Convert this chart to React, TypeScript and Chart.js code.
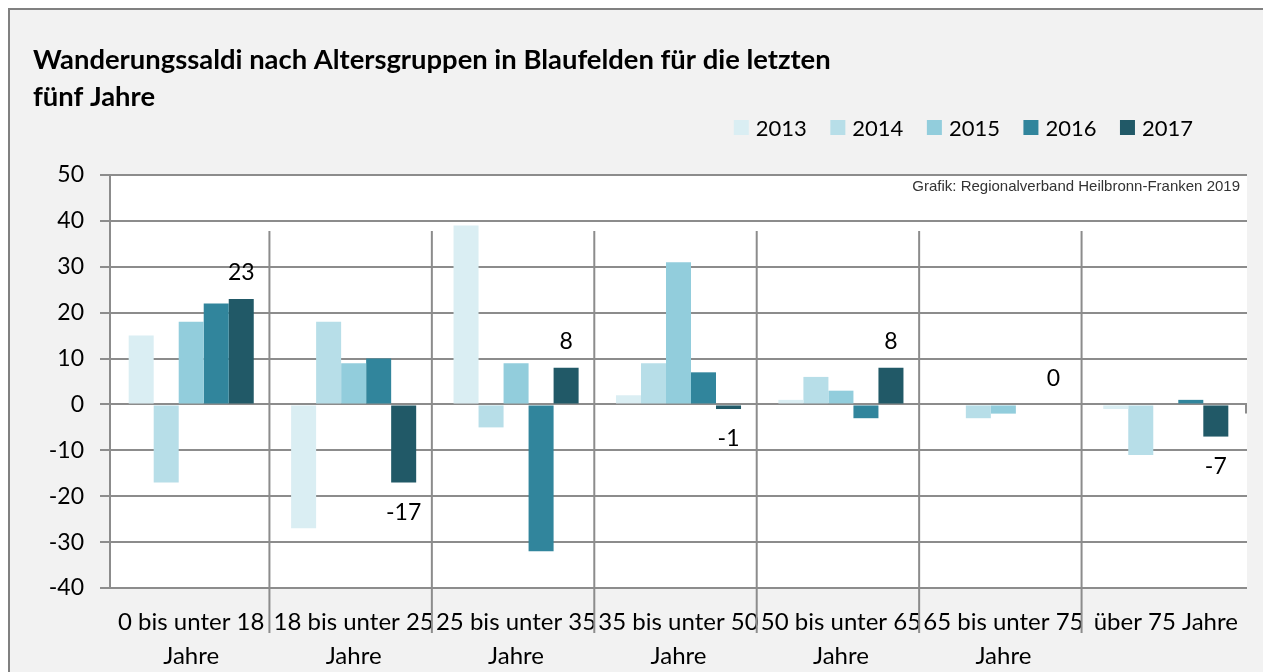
import React, { useEffect, useRef } from "react";
import { Chart, registerables } from "chart.js";

Chart.register(...registerables);

const titleLines = ["Wanderungssaldi nach Altersgruppen in Blaufelden für die letzten", "fünf Jahre"];
const sourceNote = "Grafik: Regionalverband Heilbronn-Franken 2019";
const categories = [
  ["0 bis unter 18", "Jahre"],
  ["18 bis unter 25", "Jahre"],
  ["25 bis unter 35", "Jahre"],
  ["35 bis unter 50", "Jahre"],
  ["50 bis unter 65", "Jahre"],
  ["65 bis unter 75", "Jahre"],
  "über 75 Jahre",
];
const years = ["2013", "2014", "2015", "2016", "2017"];
const values2013 = [15, -27, 39, 2, 1, 0, -1];
const values2014 = [-17, 18, -5, 9, 6, -3, -11];
const values2015 = [18, 9, 9, 31, 3, -2, 0];
const values2016 = [22, 10, -32, 7, -3, 0, 1];
const values2017 = [23, -17, 8, -1, 8, 0, -7];
const seriesValues = [values2013, values2014, values2015, values2016, values2017];
const colors = ["#DAEEF3", "#B7DEE8", "#92CDDC", "#31859C", "#215967"];
const yMin = -40;
const yMax = 50;
const yStep = 10;

const FONT = "Lato, 'Open Sans', sans-serif";
const GRID = "#8c8c8c";

const plotBgPlugin = {
  id: "plotBg",
  beforeDraw(chart: any) {
    const { ctx, chartArea } = chart;
    ctx.save();
    ctx.fillStyle = "#ffffff";
    ctx.fillRect(chartArea.left, chartArea.top, chartArea.right - chartArea.left, chartArea.bottom - chartArea.top);
    ctx.restore();
  },
};

const separatorsPlugin = {
  id: "separators",
  beforeDatasetsDraw(chart: any) {
    const { ctx, chartArea, scales } = chart;
    const x = scales.x;
    const y = scales.y;
    ctx.save();
    ctx.strokeStyle = GRID;
    ctx.lineWidth = 2;
    const n = categories.length;
    for (let i = 1; i < n; i++) {
      const px = (x.getPixelForValue(i - 1) + x.getPixelForValue(i)) / 2 - 3;
      ctx.beginPath();
      ctx.moveTo(px, chartArea.top + 56);
      ctx.lineTo(px, chartArea.bottom + 45);
      ctx.stroke();
    }
    const y0 = y.getPixelForValue(0);
    ctx.beginPath();
    ctx.moveTo(chartArea.right - 1, y0);
    ctx.lineTo(chartArea.right - 1, y0 + 9);
    ctx.stroke();
    ctx.restore();
  },
};

const legendPlugin = {
  id: "customLegend",
  afterDraw(chart: any) {
    const { ctx, chartArea } = chart;
    ctx.save();
    ctx.font = `22px ${FONT}`;
    ctx.textBaseline = "middle";
    ctx.textAlign = "left";
    const box = 15;
    const gap = 7;
    const itemGap = 23.5;
    const widths = years.map((t) => ctx.measureText(t).width);
    const total = widths.reduce((a, w) => a + box + gap + w, 0) + itemGap * (years.length - 1);
    let cx = chartArea.right - 54 - total;
    const cy = 117.5;
    years.forEach((t, i) => {
      ctx.fillStyle = colors[i];
      ctx.fillRect(cx, cy - box / 2, box, box);
      ctx.fillStyle = "#000000";
      ctx.fillText(t, cx + box + gap, cy + 1);
      cx += box + gap + widths[i] + itemGap;
    });
    ctx.restore();
  },
};

const notePlugin = {
  id: "note",
  afterDraw(chart: any) {
    const { ctx, chartArea } = chart;
    ctx.save();
    ctx.font = `15px 'Liberation Sans', Arial, sans-serif`;
    ctx.fillStyle = "#333333";
    ctx.textAlign = "right";
    ctx.textBaseline = "middle";
    ctx.fillText(sourceNote, chartArea.right - 7, chartArea.top + 12);
    ctx.restore();
  },
};

const labelsPlugin = {
  id: "lastLabels",
  afterDatasetsDraw(chart: any) {
    const { ctx } = chart;
    const idx = years.length - 1;
    const meta = chart.getDatasetMeta(idx);
    ctx.save();
    ctx.font = `23px ${FONT}`;
    ctx.fillStyle = "#000000";
    ctx.textAlign = "center";
    ctx.textBaseline = "middle";
    meta.data.forEach((el: any, i: number) => {
      const v = seriesValues[idx][i];
      const yPos = v >= 0 ? el.y - 26 : el.y + 30;
      ctx.fillText(String(v), el.x, yPos);
    });
    ctx.restore();
  },
};

export default function App() {
  const canvasRef = useRef<HTMLCanvasElement | null>(null);

  useEffect(() => {
    if (!canvasRef.current) return;
    const chart = new Chart(canvasRef.current, {
      type: "bar",
      data: {
        labels: categories as any,
        datasets: years.map((y, i) => ({
          label: y,
          data: seriesValues[i],
          backgroundColor: colors[i],
          borderWidth: 0,
          categoryPercentage: 0.77,
          barPercentage: 1,
        })),
      },
      options: {
        animation: false,
        responsive: false,
        maintainAspectRatio: false,
        layout: { padding: { left: 23, right: 24, top: 0, bottom: 0 } },
        plugins: {
          legend: { display: false },
          tooltip: { enabled: false },
          title: {
            display: true,
            text: titleLines,
            align: "start",
            color: "#000000",
            font: { family: FONT, size: 27.4, weight: "bold", lineHeight: 37 / 27.4 },
            padding: { top: 31.5, bottom: 59.5 },
          },
        },
        scales: {
          x: {
            grid: { display: false },
            border: { display: false },
            ticks: {
              color: "#000000",
              font: { family: FONT, size: 24, lineHeight: 34 / 24 },
              padding: 9,
              maxRotation: 0,
              autoSkip: false,
            },
            afterFit(scale: any) {
              scale.height = 84;
            },
          },
          y: {
            min: yMin,
            max: yMax,
            ticks: {
              stepSize: yStep,
              color: "#000000",
              font: { family: FONT, size: 23 },
              padding: 16,
            },
            grid: { color: GRID, lineWidth: 2, drawTicks: true, tickLength: 10 },
            border: { display: true, color: GRID, width: 2 },
            afterFit(scale: any) {
              scale.width = 77;
            },
          },
        },
      },
      plugins: [plotBgPlugin, separatorsPlugin, labelsPlugin, legendPlugin, notePlugin],
    });
    return () => chart.destroy();
  }, []);

  return (
    <div
      style={{
        width: 1263,
        height: 664,
        background: "#f2f2f2",
        borderTop: "2px solid #808080",
        borderLeft: "2px solid #808080",
        boxSizing: "border-box",
        overflow: "hidden",
      }}
    >
      <canvas ref={canvasRef} width={1261} height={662} style={{ display: "block" }} />
    </div>
  );
}
